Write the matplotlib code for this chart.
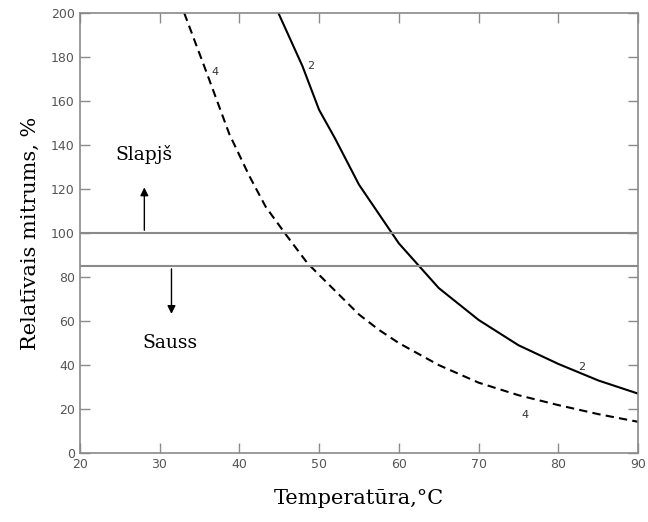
import matplotlib
matplotlib.use('agg')
import matplotlib.pyplot as plt

# curve 2 (solid) and curve 4 (dashed)
temp_2 = [44.9, 47.9, 50, 52, 55, 60, 65, 70, 75, 80, 85, 90]
rh_2 = [200, 176, 156, 143, 122, 95.3, 75, 60.5, 49, 40.5, 33, 27]
temp_4 = [33.1, 36, 38.75, 41.25, 43.3, 45.8, 48.5, 50, 55, 57.5, 60, 65, 70, 75, 80, 85, 90]
rh_4 = [200, 172, 145, 126, 112, 99.5, 86.5, 81, 63, 56, 50, 40, 32, 26.3, 21.8, 17.7, 14.2]

wet_limit = 100
dry_limit = 85

serif = 'DejaVu Serif'
gray = '#8a8a8a'

fig = plt.figure(figsize=(6.48, 5.22), dpi=100)
ax = fig.add_axes([0.123, 0.132, 0.862, 0.843])

ax.plot(temp_2, rh_2, color='black', lw=1.5)
ax.plot(temp_4, rh_4, color='black', lw=1.5, linestyle=(0, (4, 2.5)))

ax.axhline(wet_limit, color=gray, lw=1.5)
ax.axhline(dry_limit, color=gray, lw=1.5)

ax.annotate('', xy=(28.1, 122), xytext=(28.1, wet_limit),
            arrowprops=dict(arrowstyle='-|>', color='black', lw=1, mutation_scale=12))
ax.annotate('', xy=(31.5, 62), xytext=(31.5, dry_limit),
            arrowprops=dict(arrowstyle='-|>', color='black', lw=1, mutation_scale=12))

ax.text(28.0, 135.5, 'Slapjš', family=serif, fontsize=13.5, ha='center', va='center')
ax.text(31.25, 50, 'Sauss', family=serif, fontsize=13.5, ha='center', va='center')

ax.text(48.9, 176, '2', fontsize=8, ha='center', va='center', color='#333')
ax.text(82.9, 39.2, '2', fontsize=8, ha='center', va='center', color='#333')
ax.text(36.9, 173, '4', fontsize=8, ha='center', va='center', color='#333')
ax.text(75.8, 17.3, '4', fontsize=8, ha='center', va='center', color='#333')

ax.set_xlim(20, 90)
ax.set_ylim(0, 200)
ax.set_xticks(range(20, 91, 10))
ax.set_yticks(range(0, 201, 20))
ax.tick_params(direction='in', length=7.5, width=1, color=gray, labelcolor='#555',
               labelsize=9, top=True, right=True)
for s in ax.spines.values():
    s.set_color(gray)
    s.set_linewidth(1.2)

ax.set_xlabel('Temperatūra,°C', family=serif, fontsize=15, labelpad=13)
ax.set_ylabel('Relatīvais mitrums, %', family=serif, fontsize=15, labelpad=8)

fig.savefig('out.png', dpi=100)
